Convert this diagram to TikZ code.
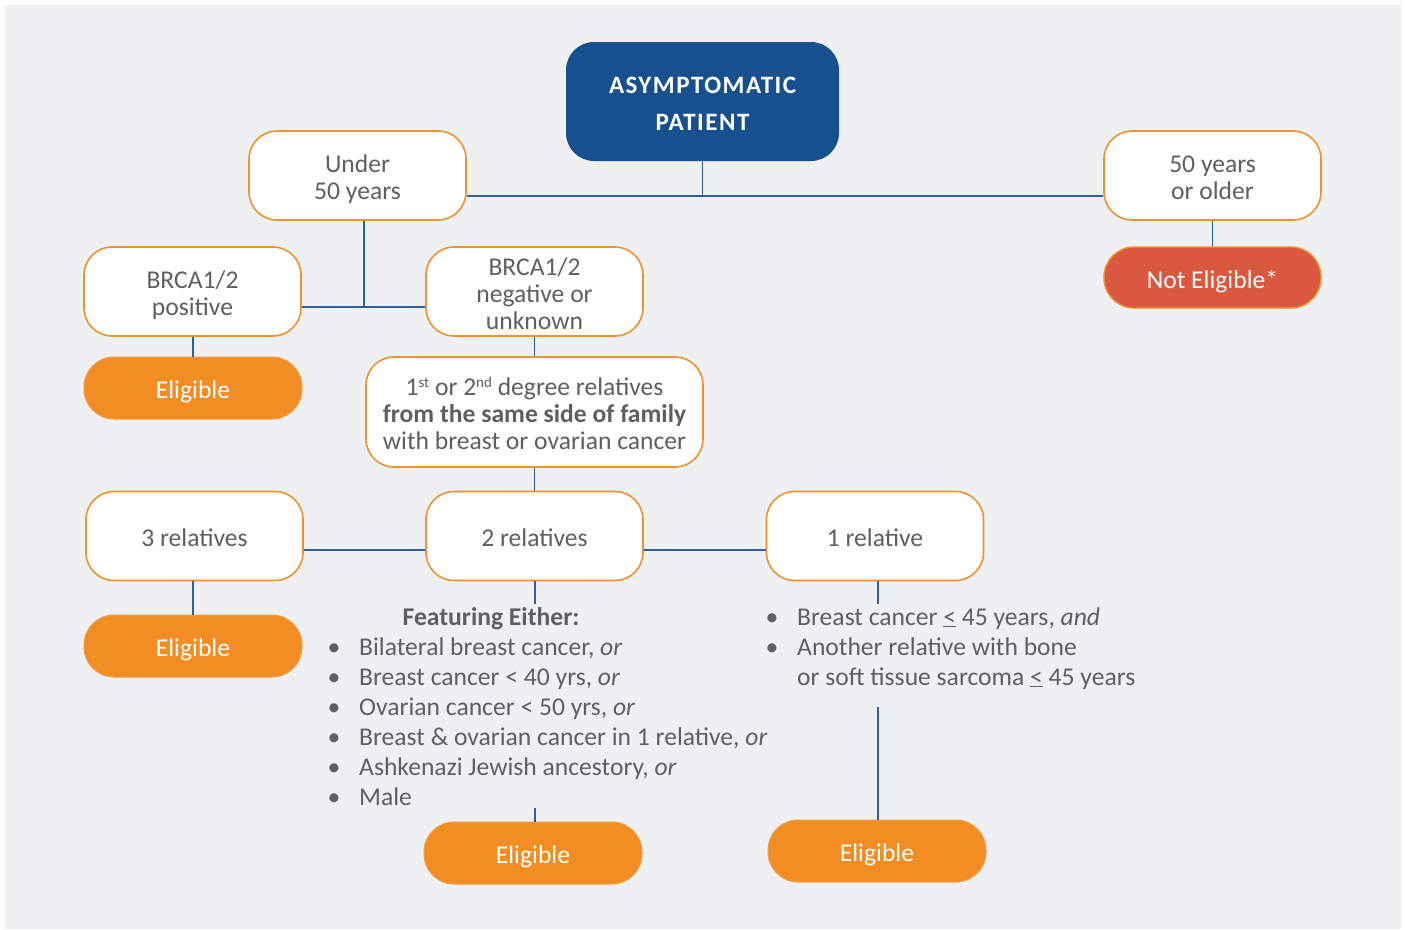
\documentclass[tikz,border=0pt]{standalone}
\usepackage{fontspec}
\setmainfont{Carlito}
\newfontfamily\spacedfont[LetterSpace=6]{Carlito}
\definecolor{bg}{HTML}{EFF0F2}
\definecolor{navy}{HTML}{17508F}
\definecolor{conn}{HTML}{2E5E9C}
\definecolor{orng}{HTML}{F0922B}
\definecolor{eorng}{HTML}{F18D23}
\definecolor{redf}{HTML}{D9583F}
\definecolor{txt}{HTML}{5E5F61}
\newcommand\fsn{\fontsize{25.6}{27}\selectfont}
\newcommand\tp{\rule{0pt}{28pt}}
\newcommand\tpb{\rule{0pt}{26pt}}
\newcommand\sps[1]{\raisebox{8.5pt}{\fontsize{15}{15}\selectfont #1}}
\begin{document}
\begin{tikzpicture}[x=1pt,y=-1pt,
  struts/.style={execute at end node={\rule[-7pt]{0pt}{7pt}}},
  box/.style={draw=orng, line width=1.6pt, fill=white, rounded corners=28pt,
    minimum width=217pt, minimum height=89pt, inner sep=0pt, text=txt, font=\fsn, align=center, struts},
  elig/.style={draw=eorng!85!white, line width=1pt, fill=eorng, rounded corners=30pt,
    minimum width=218pt, minimum height=62pt, inner sep=0pt, text=white, font=\fsn, struts},
  redbox/.style={draw=orng, line width=1.4pt, fill=redf, rounded corners=30pt,
    minimum width=217pt, minimum height=61pt, inner sep=0pt, text=white, font=\fsn, struts},
  bluebox/.style={fill=navy, rounded corners=28pt, minimum width=273pt, minimum height=119pt,
    inner sep=0pt, text=white, align=center,
    font=\spacedfont\bfseries\fontsize{25}{37}\selectfont,
    execute at end node={\rule[-6pt]{0pt}{6pt}}},
  cn/.style={draw=conn, line width=1.5pt},
  item/.style={anchor=base west, inner sep=0pt, font=\fsn, text=txt},
  bul/.style={anchor=base, inner sep=0pt, font=\fsn, text=txt}]
\useasboundingbox (0,0) rectangle (1405,929);
\fill[white] (0,0) rectangle (1405,929);
\fill[bg] (5,5) rectangle (1401,929);

% nodes
\node[bluebox] (asym) at (702.5,101.5) {\tpb ASYMPTOMATIC\\PATIENT};
\node[box] (u50) at (357.5,175.5) {\tp Under\\50 years};
\node[box] (o50) at (1212.5,175.5) {\tp 50 years\\or older};
\node[box] (bpos) at (192.5,291.5) {\tp BRCA1/2\\positive};
\node[box] (bneg) at (534.5,291.5) {\tp BRCA1/2\\negative or\\unknown};
\node[redbox] (ne) at (1212.5,277.5) {\tp Not Eligible*};
\node[elig] (e1) at (193,388) {\tp Eligible};
\node[box, minimum width=337pt, minimum height=110pt] (deg) at (534.5,412)
  {\tp 1\sps{st} or 2\sps{nd} degree relatives\\\textbf{from the same side of family}\\with breast or ovarian cancer};
\node[box] (r3) at (194.5,536) {\tp 3 relatives};
\node[box] (r2) at (534.5,536) {\tp 2 relatives};
\node[box] (r1) at (875,536) {\tp 1 relative};
\node[elig] (e3) at (193,646) {\tp Eligible};
\node[elig] (e2) at (533,853) {\tp Eligible};
\node[elig] (e4) at (877,851) {\tp Eligible};

% connectors
\coordinate (ja) at (703,196);
\draw[cn] (asym.south) -- (asym.south |- ja);
\draw[cn] (u50.east |- ja) -- (o50.west |- ja);
\coordinate (jb) at (364,307);
\draw[cn] (u50.south -| jb) -- (jb);
\draw[cn] (bpos.east |- jb) -- (bneg.west |- jb);
\draw[cn] (o50) -- (ne);
\draw[cn] (e1.north) -- (e1.north |- bpos.south);
\draw[cn] (bneg.south -| deg.north) -- (deg.north);
\draw[cn] (deg) -- (r2);
\coordinate (jr) at (534,550);
\draw[cn] (r3.east |- jr) -- (r2.west |- jr);
\draw[cn] (r2.east |- jr) -- (r1.west |- jr);
\draw[cn] (e3.north) -- (e3.north |- r3.south);
\coordinate (f1) at (535,604);
\draw[cn] (r2.south -| f1) -- (f1);
\coordinate (f2) at (535,808);
\draw[cn] (f2) -- (e2.north -| f2);
\coordinate (g1) at (878,604);
\draw[cn] (r1.south -| g1) -- (g1);
\coordinate (g2) at (878,707);
\draw[cn] (g2) -- (e4.north -| g2);

% list for 2 relatives
\node[bul, font=\fsn\bfseries] (fe) at (491,625) {Featuring Either:};
\node[bul] (b1) at (334,655) {\textbullet};
\node[item] (t1) at (359,655) {Bilateral breast cancer, \textit{or}};
\node[bul] (b2) at (334,685) {\textbullet};
\node[item] (t2) at (359,685) {Breast cancer < 40 yrs, \textit{or}};
\node[bul] (b3) at (334,715) {\textbullet};
\node[item] (t3) at (359,715) {Ovarian cancer < 50 yrs, \textit{or}};
\node[bul] (b4) at (334,745) {\textbullet};
\node[item] (t4) at (359,745) {Breast \& ovarian cancer in 1 relative, \textit{or}};
\node[bul] (b5) at (334,775) {\textbullet};
\node[item] (t5) at (359,775) {Ashkenazi Jewish ancestory, \textit{or}};
\node[bul] (b6) at (334,805) {\textbullet};
\node[item] (t6) at (359,805) {Male};

% list for 1 relative
\node[bul] (c1) at (772,625) {\textbullet};
\node[item] (s1) at (797,625) {Breast cancer \underline{<} 45 years, \textit{and}};
\node[bul] (c2) at (772,655) {\textbullet};
\node[item] (s2) at (797,655) {Another relative with bone};
\node[item] (s3) at (797,685) {or soft tissue sarcoma \underline{<} 45 years};
\end{tikzpicture}
\end{document}
